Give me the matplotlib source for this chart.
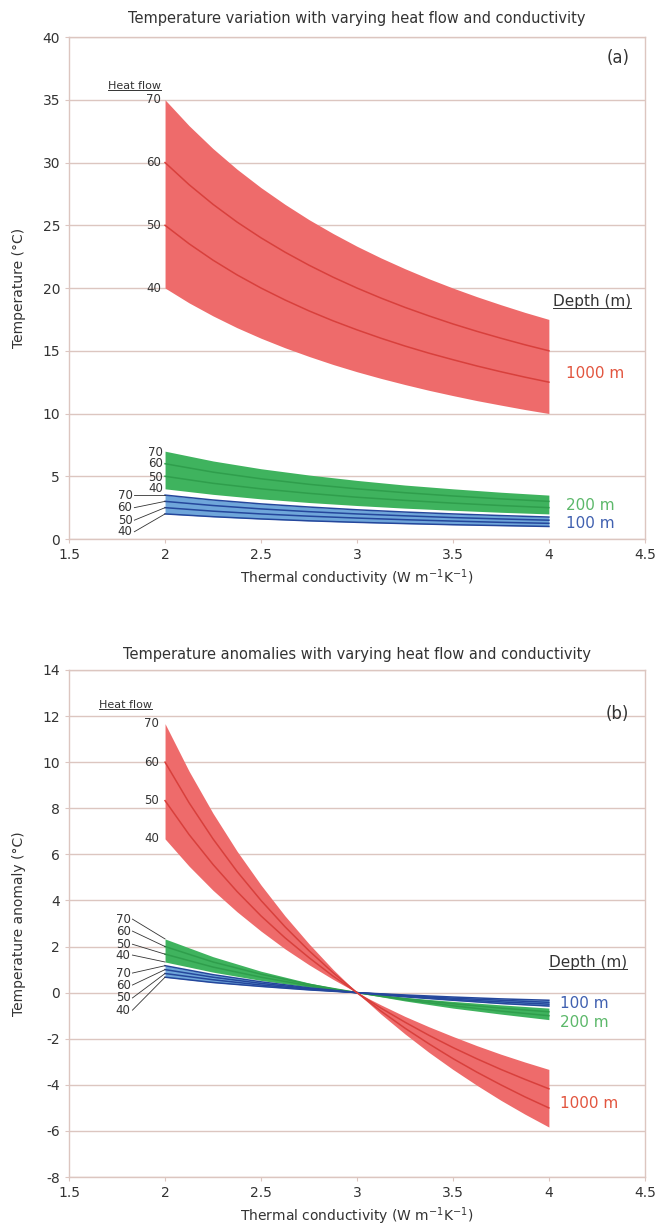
import matplotlib
matplotlib.use("Agg")
import numpy as np
import matplotlib.pyplot as plt
from matplotlib.lines import Line2D

plt.rcParams['font.family'] = ['DejaVu Sans']
plt.rcParams['mathtext.default'] = 'regular'
plt.rcParams['axes.unicode_minus'] = False

# Conductividad termica (W m-1 K-1)
k = [2.0, 2.25, 2.5, 2.75, 3.0, 3.25, 3.5, 3.75, 4.0]
# puntos mas finos para las curvas de 1000 m (mas curvadas)
k_fino = [2.0, 2.125, 2.25, 2.375, 2.5, 2.625, 2.75, 2.875, 3.0,
          3.125, 3.25, 3.375, 3.5, 3.625, 3.75, 3.875, 4.0]
flujos = [40, 50, 60, 70]

# (a) Temperatura (°C) a cada profundidad, por flujo de calor 40, 50, 60, 70
t1000_40 = [20.0, 18.82, 17.78, 16.84, 16.0, 15.24, 14.55, 13.91, 13.33,
            12.8, 12.31, 11.85, 11.43, 11.03, 10.67, 10.32, 10.0]
t1000_50 = [25.0, 23.53, 22.22, 21.05, 20.0, 19.05, 18.18, 17.39, 16.67,
            16.0, 15.38, 14.81, 14.29, 13.79, 13.33, 12.90, 12.5]
t1000_60 = [30.0, 28.24, 26.67, 25.26, 24.0, 22.86, 21.82, 20.87, 20.0,
            19.2, 18.46, 17.78, 17.14, 16.55, 16.0, 15.48, 15.0]
t1000_70 = [35.0, 32.94, 31.11, 29.47, 28.0, 26.67, 25.45, 24.35, 23.33,
            22.4, 21.54, 20.74, 20.0, 19.31, 18.67, 18.06, 17.5]

t200_40 = [4.0, 3.56, 3.2, 2.91, 2.67, 2.46, 2.29, 2.13, 2.0]
t200_50 = [5.0, 4.44, 4.0, 3.64, 3.33, 3.08, 2.86, 2.67, 2.5]
t200_60 = [6.0, 5.33, 4.8, 4.36, 4.0, 3.69, 3.43, 3.2, 3.0]
t200_70 = [7.0, 6.22, 5.6, 5.1, 4.67, 4.3, 4.0, 3.73, 3.5]

t100_40 = [2.0, 1.78, 1.6, 1.45, 1.33, 1.23, 1.14, 1.07, 1.0]
t100_50 = [2.5, 2.22, 2.0, 1.82, 1.67, 1.54, 1.43, 1.33, 1.25]
t100_60 = [3.0, 2.67, 2.4, 2.18, 2.0, 1.85, 1.71, 1.6, 1.5]
t100_70 = [3.5, 3.11, 2.8, 2.55, 2.33, 2.15, 2.0, 1.87, 1.75]

# (b) Anomalia de temperatura (°C)
a1000_40 = [6.67, 5.49, 4.44, 3.51, 2.67, 1.90, 1.21, 0.58, 0.0,
            -0.53, -1.03, -1.48, -1.90, -2.30, -2.67, -3.01, -3.33]
a1000_50 = [8.33, 6.86, 5.56, 4.39, 3.33, 2.38, 1.52, 0.72, 0.0,
            -0.67, -1.28, -1.85, -2.38, -2.87, -3.33, -3.76, -4.17]
a1000_60 = [10.0, 8.24, 6.67, 5.26, 4.0, 2.86, 1.82, 0.87, 0.0,
            -0.8, -1.54, -2.22, -2.86, -3.45, -4.0, -4.52, -5.0]
a1000_70 = [11.67, 9.61, 7.78, 6.14, 4.67, 3.33, 2.12, 1.01, 0.0,
            -0.93, -1.79, -2.59, -3.33, -4.02, -4.67, -5.27, -5.83]

a200_40 = [1.33, 0.89, 0.53, 0.24, 0.0, -0.21, -0.38, -0.53, -0.67]
a200_50 = [1.67, 1.11, 0.67, 0.30, 0.0, -0.26, -0.48, -0.67, -0.83]
a200_60 = [2.0, 1.33, 0.8, 0.36, 0.0, -0.31, -0.57, -0.8, -1.0]
a200_70 = [2.33, 1.56, 0.93, 0.42, 0.0, -0.36, -0.67, -0.93, -1.17]

a100_40 = [0.67, 0.44, 0.27, 0.12, 0.0, -0.10, -0.19, -0.27, -0.33]
a100_50 = [0.83, 0.56, 0.33, 0.15, 0.0, -0.13, -0.24, -0.33, -0.42]
a100_60 = [1.0, 0.67, 0.4, 0.18, 0.0, -0.15, -0.29, -0.4, -0.5]
a100_70 = [1.17, 0.78, 0.47, 0.21, 0.0, -0.18, -0.33, -0.47, -0.58]

# Colores
rojo_rel, rojo_lin, rojo_txt = '#ee6b6b', '#d8403c', '#e2553f'
verde_rel, verde_lin, verde_txt = '#3fb35e', '#2f9e4c', '#5cb86a'
azul_rel, azul_lin, azul_txt = '#6fa6da', '#25479c', '#4060b0'
rejilla = '#dcc6c0'
gris = '#333333'

fig = plt.figure(figsize=(6.58, 12.27), dpi=100)
ax1 = fig.add_axes([0.105, 0.5607, 0.875, 0.4091])
ax2 = fig.add_axes([0.105, 0.0407, 0.875, 0.4133])


def banda(ax, x, curvas, relleno, linea, bordes=False):
    ax.fill_between(x, curvas[0], curvas[3], color=relleno, lw=0, zorder=2)
    lista = curvas if bordes else curvas[1:3]
    for c in lista:
        ax.plot(x, c, color=linea, lw=1.1, zorder=3)


def estilo(ax, ymin, ymax, paso):
    ax.set_xlim(1.5, 4.5)
    ax.set_ylim(ymin, ymax)
    ax.set_xticks(np.arange(1.5, 4.51, 0.5))
    ax.set_xticklabels(['1.5', '2', '2.5', '3', '3.5', '4', '4.5'])
    ax.set_yticks(np.arange(ymin, ymax + 0.1, paso))
    ax.grid(True, axis='y', color=rejilla, lw=1.0, zorder=0)
    for s in ax.spines.values():
        s.set_color(rejilla)
        s.set_linewidth(1.0)
    ax.tick_params(colors=gris, labelsize=10, length=3, color=rejilla)
    ax.set_xlabel('Thermal conductivity (W m$^{-1}$K$^{-1}$)', fontsize=10, color=gris, labelpad=4)


subrayados = []

# ---------------- Panel (a) ----------------
banda(ax1, k_fino, [t1000_40, t1000_50, t1000_60, t1000_70], rojo_rel, rojo_lin)
banda(ax1, k, [t200_40, t200_50, t200_60, t200_70], verde_rel, verde_lin)
banda(ax1, k, [t100_40, t100_50, t100_60, t100_70], azul_rel, azul_lin, bordes=True)
estilo(ax1, 0, 40, 5)
ax1.set_ylabel('Temperature (°C)', fontsize=10, color=gris, labelpad=12)
ax1.set_title('Temperature variation with varying heat flow and conductivity',
              fontsize=10.5, color=gris, pad=10)
ax1.text(4.42, 38.3, '(a)', fontsize=12, color=gris, ha='right', va='center')

subrayados.append(ax1.text(1.98, 36.1, 'Heat flow', fontsize=8, color=gris, ha='right', va='center'))
for q, t in zip(flujos, [t1000_40, t1000_50, t1000_60, t1000_70]):
    ax1.text(1.98, t[0], str(q), fontsize=8.5, color=gris, ha='right', va='center')
for q, y in zip(flujos, [4.0, 4.9, 6.0, 6.9]):
    ax1.text(1.99, y, str(q), fontsize=8.5, color=gris, ha='right', va='center')
for q, y, t in zip(flujos, [0.58, 1.5, 2.5, 3.5], [t100_40, t100_50, t100_60, t100_70]):
    ax1.text(1.83, y, str(q), fontsize=8.5, color=gris, ha='right', va='center')
    ax1.plot([1.84, 2.0], [y, t[0]], color=gris, lw=0.6, zorder=4)

subrayados.append(ax1.text(4.02, 18.9, 'Depth (m)', fontsize=11, color=gris, ha='left', va='center'))
ax1.text(4.09, 13.2, '1000 m', fontsize=11, color=rojo_txt, ha='left', va='center')
ax1.text(4.09, 2.7, '200 m', fontsize=11, color=verde_txt, ha='left', va='center')
ax1.text(4.09, 1.2, '100 m', fontsize=11, color=azul_txt, ha='left', va='center')

# ---------------- Panel (b) ----------------
banda(ax2, k, [a200_40, a200_50, a200_60, a200_70], verde_rel, verde_lin)
banda(ax2, k, [a100_40, a100_50, a100_60, a100_70], azul_rel, azul_lin, bordes=True)
banda(ax2, k_fino, [a1000_40, a1000_50, a1000_60, a1000_70], rojo_rel, rojo_lin)
estilo(ax2, -8, 14, 2)
ax2.set_ylabel('Temperature anomaly (°C)', fontsize=10, color=gris, labelpad=12)
ax2.set_title('Temperature anomalies with varying heat flow and conductivity',
              fontsize=10.5, color=gris, pad=8)
ax2.text(4.42, 12.1, '(b)', fontsize=12, color=gris, ha='right', va='center')

subrayados.append(ax2.text(1.93, 12.5, 'Heat flow', fontsize=8, color=gris, ha='right', va='center'))
for q, a in zip(flujos, [a1000_40, a1000_50, a1000_60, a1000_70]):
    ax2.text(1.97, a[0], str(q), fontsize=8.5, color=gris, ha='right', va='center')
for q, y, a in zip(flujos, [1.63, 2.1, 2.67, 3.19], [a200_40, a200_50, a200_60, a200_70]):
    ax2.text(1.82, y, str(q), fontsize=8.5, color=gris, ha='right', va='center')
    ax2.plot([1.83, 2.0], [y, a[0]], color=gris, lw=0.6, zorder=4)
for q, y, a in zip(flujos, [-0.76, -0.23, 0.33, 0.85], [a100_40, a100_50, a100_60, a100_70]):
    ax2.text(1.82, y, str(q), fontsize=8.5, color=gris, ha='right', va='center')
    ax2.plot([1.83, 2.0], [y, a[0]], color=gris, lw=0.6, zorder=4)

subrayados.append(ax2.text(4.0, 1.3, 'Depth (m)', fontsize=11, color=gris, ha='left', va='center'))
ax2.text(4.06, -0.45, '100 m', fontsize=11, color=azul_txt, ha='left', va='center')
ax2.text(4.06, -1.3, '200 m', fontsize=11, color=verde_txt, ha='left', va='center')
ax2.text(4.06, -4.8, '1000 m', fontsize=11, color=rojo_txt, ha='left', va='center')

# Subrayado de "Heat flow" y "Depth (m)"
fig.canvas.draw()
inv = fig.transFigure.inverted()
for txt in subrayados:
    bb = txt.get_window_extent()
    (x0, y0), (x1, _) = inv.transform([(bb.x0, bb.y0 + 1), (bb.x1, bb.y0 + 1)])
    fig.add_artist(Line2D([x0, x1], [y0, y0], color=gris, lw=0.7))

fig.savefig('out.png', dpi=100)
